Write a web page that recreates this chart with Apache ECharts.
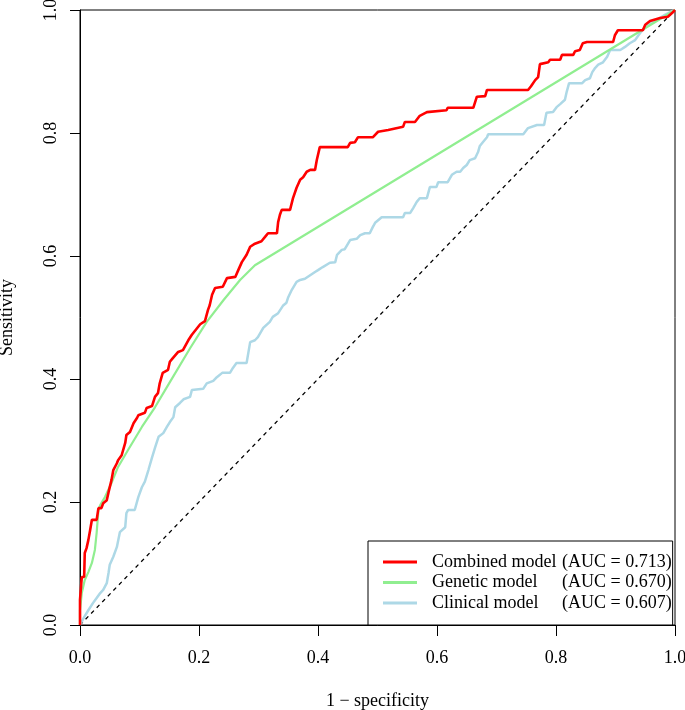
<!DOCTYPE html>
<html>
<head>
<meta charset="utf-8">
<script src="https://cdn.jsdelivr.net/npm/echarts@6/dist/echarts.min.js"></script>
<style>
html,body{margin:0;padding:0;background:#fff;}
#chart{width:685px;height:710px;}
</style>
</head>
<body>
<div id="chart"></div>
<script>
// ---- data (1 - specificity, sensitivity) ----
const modelNames = ['Combined model', 'Genetic model', 'Clinical model'];
const aucValues = ['0.713', '0.670', '0.607'];
const xTicks = [0, 0.2, 0.4, 0.6, 0.8, 1.0];
const yTicks = [0, 0.2, 0.4, 0.6, 0.8, 1.0];
const diagonal = [[0, 0], [1, 1]];

const combinedRoc = [
 [0,0],[0,0.041],[0.003,0.078],[0.007,0.078],[0.008,0.117],[0.011,0.125],[0.014,0.138],[0.017,0.154],
 [0.020,0.171],[0.028,0.171],[0.031,0.190],[0.036,0.190],[0.039,0.198],[0.045,0.203],[0.048,0.216],
 [0.053,0.236],[0.056,0.252],[0.062,0.263],[0.064,0.268],[0.070,0.276],[0.076,0.296],[0.078,0.309],
 [0.084,0.314],[0.090,0.328],[0.096,0.337],[0.098,0.341],[0.109,0.345],[0.112,0.353],[0.121,0.356],
 [0.126,0.371],[0.131,0.377],[0.134,0.393],[0.139,0.410],[0.148,0.415],[0.151,0.428],[0.156,0.434],
 [0.165,0.444],[0.173,0.447],[0.182,0.463],[0.188,0.472],[0.197,0.483],[0.202,0.489],[0.210,0.494],
 [0.215,0.512],[0.218,0.520],[0.222,0.537],[0.227,0.548],[0.240,0.550],[0.247,0.564],[0.261,0.566],
 [0.266,0.577],[0.272,0.590],[0.280,0.602],[0.286,0.615],[0.294,0.620],[0.305,0.624],[0.311,0.631],
 [0.316,0.637],[0.331,0.637],[0.333,0.655],[0.336,0.667],[0.339,0.675],[0.353,0.675],[0.358,0.694],
 [0.364,0.711],[0.370,0.724],[0.375,0.728],[0.381,0.737],[0.387,0.740],[0.395,0.740],[0.398,0.756],
 [0.403,0.777],[0.450,0.777],[0.454,0.784],[0.462,0.785],[0.467,0.793],[0.492,0.793],[0.501,0.802],
 [0.518,0.805],[0.521,0.808],[0.543,0.810],[0.546,0.818],[0.563,0.818],[0.571,0.828],[0.583,0.834],
 [0.616,0.837],[0.618,0.841],[0.661,0.841],[0.667,0.859],[0.681,0.860],[0.684,0.870],[0.753,0.870],
 [0.758,0.876],[0.765,0.886],[0.770,0.891],[0.773,0.912],[0.787,0.915],[0.790,0.919],[0.807,0.919],
 [0.810,0.927],[0.829,0.927],[0.832,0.933],[0.840,0.935],[0.845,0.946],[0.852,0.948],[0.896,0.948],
 [0.899,0.959],[0.904,0.967],[0.946,0.967],[0.950,0.976],[0.958,0.982],[0.975,0.987],[0.988,0.989],
 [0.995,0.995],[1,1]
];

const geneticRoc = [
 [0,0],[0,0.024],[0.003,0.052],[0.008,0.073],[0.014,0.086],[0.020,0.101],[0.025,0.122],[0.028,0.150],
 [0.031,0.187],[0.034,0.195],[0.042,0.208],[0.053,0.231],[0.064,0.257],[0.081,0.285],[0.104,0.322],
 [0.126,0.354],[0.148,0.390],[0.185,0.450],[0.213,0.493],[0.241,0.528],[0.269,0.561],[0.294,0.585],
 [1,1]
];

const clinicalRoc = [
 [0,0],[0.006,0.011],[0.014,0.024],[0.022,0.036],[0.028,0.044],[0.034,0.052],[0.039,0.057],[0.045,0.068],
 [0.048,0.085],[0.050,0.098],[0.056,0.111],[0.062,0.127],[0.067,0.151],[0.076,0.159],[0.078,0.182],
 [0.081,0.187],[0.092,0.187],[0.098,0.208],[0.104,0.224],[0.109,0.233],[0.115,0.252],[0.121,0.272],
 [0.126,0.288],[0.132,0.306],[0.140,0.312],[0.146,0.322],[0.151,0.330],[0.157,0.338],[0.160,0.354],
 [0.168,0.361],[0.174,0.367],[0.185,0.371],[0.188,0.382],[0.207,0.384],[0.213,0.393],[0.224,0.397],
 [0.230,0.403],[0.239,0.410],[0.252,0.410],[0.257,0.418],[0.263,0.426],[0.280,0.426],[0.286,0.460],
 [0.294,0.463],[0.299,0.468],[0.308,0.483],[0.319,0.493],[0.324,0.501],[0.333,0.507],[0.341,0.519],
 [0.347,0.524],[0.350,0.533],[0.353,0.533],[0.356,0.545],[0.364,0.558],[0.370,0.561],[0.378,0.563],
 [0.395,0.574],[0.400,0.577],[0.408,0.582],[0.420,0.589],[0.429,0.590],[0.432,0.602],[0.440,0.610],
 [0.445,0.611],[0.454,0.626],[0.465,0.628],[0.471,0.634],[0.479,0.637],[0.487,0.637],[0.492,0.647],
 [0.496,0.654],[0.507,0.663],[0.543,0.663],[0.546,0.670],[0.555,0.670],[0.560,0.678],[0.566,0.688],
 [0.571,0.694],[0.583,0.694],[0.588,0.712],[0.599,0.712],[0.602,0.720],[0.618,0.720],[0.625,0.732],
 [0.633,0.737],[0.639,0.737],[0.644,0.743],[0.650,0.748],[0.655,0.756],[0.664,0.759],[0.669,0.769],
 [0.672,0.779],[0.677,0.785],[0.684,0.793],[0.686,0.798],[0.745,0.798],[0.753,0.808],[0.768,0.813],
 [0.780,0.813],[0.784,0.833],[0.795,0.834],[0.801,0.842],[0.807,0.847],[0.815,0.854],[0.818,0.867],
 [0.822,0.881],[0.844,0.881],[0.849,0.886],[0.857,0.889],[0.861,0.899],[0.866,0.906],[0.871,0.911],
 [0.879,0.915],[0.886,0.924],[0.891,0.935],[0.908,0.935],[0.916,0.940],[0.924,0.946],[0.933,0.951],
 [0.938,0.958],[0.945,0.967],[0.955,0.976],[0.970,0.984],[0.983,0.992],[0.995,0.998],[1,1]
];

const FONT = '"Liberation Serif", "Times New Roman", serif';
const chart = echarts.init(document.getElementById('chart'), null, {renderer: 'canvas'});

const aucByName = {};
modelNames.forEach((n, i) => { aucByName[n] = aucValues[i]; });

const option = {
  animation: false,
  backgroundColor: '#fff',
  textStyle: {fontFamily: FONT},
  grid: {left: 80, right: 10, top: 10, bottom: 85, outerBoundsMode: 'none', containLabel: false,
         show: true, borderColor: '#000', borderWidth: 1, backgroundColor: 'transparent'},
  legend: {
    data: modelNames,
    orient: 'vertical',
    left: 368,
    bottom: 85,
    padding: [12, 1, 13, 15],
    itemGap: 2.5,
    itemWidth: 34,
    itemHeight: 3,
    icon: 'rect',
    borderColor: '#000',
    borderWidth: 1,
    borderRadius: 0,
    backgroundColor: '#fff',
    formatter: function (name) { return '{p|}{a|' + name + '}{b|(AUC = ' + aucByName[name] + ')}'; },
    textStyle: {
      fontFamily: FONT, fontSize: 18, color: '#000',
      rich: {
        p: {width: 10, fontFamily: FONT, fontSize: 18},
        a: {width: 130, fontFamily: FONT, fontSize: 18, color: '#000'},
        b: {width: 112, fontFamily: FONT, fontSize: 18, color: '#000'}
      }
    }
  },
  xAxis: {
    type: 'value', min: 0, max: 1, interval: 0.2,
    name: '1 \u2212 specificity', nameLocation: 'middle', nameGap: 67,
    nameTextStyle: {fontFamily: FONT, fontSize: 18, color: '#000'},
    axisLine: {show: true, onZero: false, lineStyle: {color: '#000', width: 1}},
    axisTick: {show: true, length: 11, lineStyle: {color: '#000'}},
    axisLabel: {fontFamily: FONT, fontSize: 18, color: '#000', margin: 24, formatter: v => v.toFixed(1)},
    splitLine: {show: false}
  },
  yAxis: {
    type: 'value', min: 0, max: 1, interval: 0.2,
    name: 'Sensitivity', nameLocation: 'middle', nameGap: 64,
    nameTextStyle: {fontFamily: FONT, fontSize: 18, color: '#000'},
    axisLine: {show: true, onZero: false, lineStyle: {color: '#000', width: 1}},
    axisTick: {show: true, length: 10, lineStyle: {color: '#000'}},
    axisLabel: {fontFamily: FONT, fontSize: 18, color: '#000', margin: 20, rotate: 90, formatter: v => v.toFixed(1)},
    splitLine: {show: false}
  },
  series: [
    {type: 'line', name: 'diagonal', data: diagonal, showSymbol: false, silent: true,
     lineStyle: {color: '#000', width: 1.3, type: [4, 4]}, z: 1},
    {type: 'line', name: modelNames[2], data: clinicalRoc, showSymbol: false,
     color: '#ADD8E6', lineStyle: {color: '#ADD8E6', width: 2.5}, z: 2},
    {type: 'line', name: modelNames[1], data: geneticRoc, showSymbol: false,
     color: '#90EE90', lineStyle: {color: '#90EE90', width: 2.2}, z: 3},
    {type: 'line', name: modelNames[0], data: combinedRoc, showSymbol: false,
     color: '#FF0000', lineStyle: {color: '#FF0000', width: 2.6}, z: 4}
  ]
};
chart.setOption(option);
</script>
</body>
</html>
